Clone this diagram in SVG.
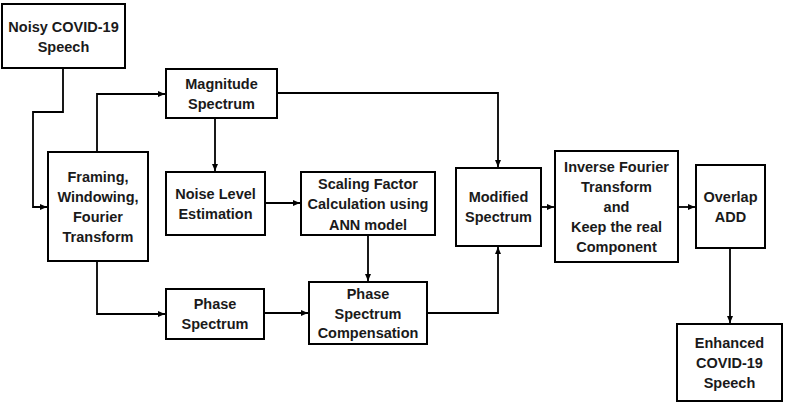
<svg xmlns="http://www.w3.org/2000/svg" width="785" height="403" viewBox="0 0 785 403">
<style>
.box{fill:#fff;stroke:#000;stroke-width:2}
.t{font-family:"Liberation Sans",Arial,sans-serif;font-weight:bold;font-size:14.5px;text-anchor:middle;fill:#1a1a1a}
.c{fill:none;stroke:#000;stroke-width:1.8}
</style>
<defs>
<marker id="ah" markerWidth="7" markerHeight="6" refX="7" refY="3" orient="auto" markerUnits="userSpaceOnUse">
<path d="M0,0 L7,3 L0,6 Z" fill="#000"/>
</marker>
</defs>
<rect width="785" height="403" fill="#fff"/>
<g id="connectors">
<path class="c" d="M63,68 V112 H33 V207 H47" marker-end="url(#ah)"/>
<path class="c" d="M97,152 V94 H165" marker-end="url(#ah)"/>
<path class="c" d="M97,261 V314 H165" marker-end="url(#ah)"/>
<path class="c" d="M215,118 V171" marker-end="url(#ah)"/>
<path class="c" d="M265,203 H300" marker-end="url(#ah)"/>
<path class="c" d="M368,235 V281" marker-end="url(#ah)"/>
<path class="c" d="M264,313 H308" marker-end="url(#ah)"/>
<path class="c" d="M277,93 H498 V167" marker-end="url(#ah)"/>
<path class="c" d="M427,313 H498 V247" marker-end="url(#ah)"/>
<path class="c" d="M541,207 H554" marker-end="url(#ah)"/>
<path class="c" d="M678,207 H695" marker-end="url(#ah)"/>
<path class="c" d="M730,248 V323" marker-end="url(#ah)"/>
</g>
<g id="noisy">
<rect class="box" x="2" y="4" width="123" height="64"/>
<text class="t" x="63.5" y="32">Noisy COVID-19</text>
<text class="t" x="63.5" y="52">Speech</text>
</g>
<g id="framing">
<rect class="box" x="48" y="152" width="100" height="109"/>
<text class="t" x="98" y="182">Framing,</text>
<text class="t" x="98" y="202">Windowing,</text>
<text class="t" x="98" y="222">Fourier</text>
<text class="t" x="98" y="242">Transform</text>
</g>
<g id="magnitude">
<rect class="box" x="166" y="69" width="111" height="49"/>
<text class="t" x="221.5" y="89">Magnitude</text>
<text class="t" x="221.5" y="109">Spectrum</text>
</g>
<g id="noise">
<rect class="box" x="166" y="172" width="99" height="63"/>
<text class="t" x="215.5" y="199">Noise Level</text>
<text class="t" x="215.5" y="219">Estimation</text>
</g>
<g id="phase">
<rect class="box" x="166" y="289" width="98" height="50"/>
<text class="t" x="215" y="309">Phase</text>
<text class="t" x="215" y="329">Spectrum</text>
</g>
<g id="scaling">
<rect class="box" x="301" y="172" width="134" height="63"/>
<text class="t" x="368" y="189">Scaling Factor</text>
<text class="t" x="368" y="209">Calculation using</text>
<text class="t" x="368" y="230">ANN model</text>
</g>
<g id="compensation">
<rect class="box" x="309" y="282" width="118" height="62"/>
<text class="t" x="368" y="299">Phase</text>
<text class="t" x="368" y="319">Spectrum</text>
<text class="t" x="368" y="338">Compensation</text>
</g>
<g id="modified">
<rect class="box" x="456" y="168" width="85" height="78"/>
<text class="t" x="498.5" y="202">Modified</text>
<text class="t" x="498.5" y="222">Spectrum</text>
</g>
<g id="inverse">
<rect class="box" x="555" y="151" width="123" height="111"/>
<text class="t" x="616.5" y="172">Inverse Fourier</text>
<text class="t" x="616.5" y="192">Transform</text>
<text class="t" x="616.5" y="212">and</text>
<text class="t" x="616.5" y="232">Keep the real</text>
<text class="t" x="616.5" y="252">Component</text>
</g>
<g id="overlap">
<rect class="box" x="696" y="165" width="69" height="83"/>
<text class="t" x="730.5" y="202">Overlap</text>
<text class="t" x="730.5" y="222">ADD</text>
</g>
<g id="enhanced">
<rect class="box" x="677" y="324" width="105" height="77"/>
<text class="t" x="729.5" y="348">Enhanced</text>
<text class="t" x="729.5" y="368">COVID-19</text>
<text class="t" x="729.5" y="388">Speech</text>
</g>
</svg>
